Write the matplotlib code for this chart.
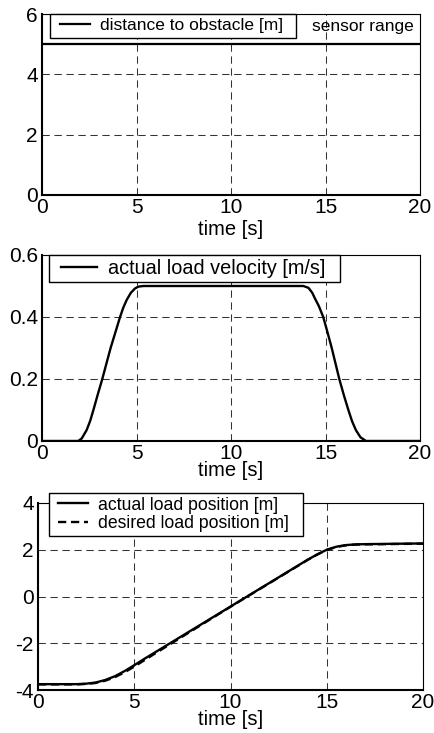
import matplotlib
matplotlib.use('Agg')
import matplotlib.pyplot as plt
from matplotlib.lines import Line2D
from matplotlib.legend_handler import HandlerLine2D

plt.rcParams['font.family'] = ['Liberation Sans', 'DejaVu Sans']

# top panel: distance to obstacle (stays at the sensor range)
t_dist = [0, 20]
dist = [5, 5]

# middle panel: actual load velocity
t_vel = [0, 1.92, 2.1, 2.36, 2.55, 2.72, 2.95, 3.19, 3.4, 3.63, 3.88, 4.13, 4.3, 4.48, 4.7,
         4.92, 5.1, 5.36, 13.83, 14.1, 14.3, 14.44, 14.65, 14.88, 15.1, 15.33, 15.53, 15.73,
         15.97, 16.21, 16.41, 16.61, 16.85, 17.14, 20]
vel = [0, 0, 0.008, 0.035, 0.065, 0.1, 0.15, 0.2, 0.248, 0.3, 0.35, 0.4, 0.43, 0.455, 0.478,
       0.492, 0.498, 0.5, 0.5, 0.494, 0.478, 0.46, 0.435, 0.4, 0.352, 0.3, 0.25, 0.2,
       0.148, 0.1, 0.063, 0.035, 0.012, 0, 0]

# bottom panel: load position
t_pos = [0, 1, 2, 2.5, 3, 3.5, 4, 4.5, 5, 5.5, 6, 7, 8, 9, 10, 11, 12, 13, 14,
         14.5, 15, 15.5, 16, 16.5, 17, 18, 19, 20]
pos_actual = [-3.75, -3.75, -3.75, -3.73, -3.68, -3.57, -3.41, -3.19, -2.94, -2.68, -2.43,
              -1.93, -1.43, -0.93, -0.43, 0.07, 0.57, 1.07, 1.57, 1.80, 2.0, 2.13, 2.2,
              2.23, 2.24, 2.25, 2.26, 2.27]
pos_desired = [-3.76, -3.76, -3.76, -3.74, -3.70, -3.60, -3.45, -3.24, -3.0, -2.74, -2.48,
               -1.97, -1.46, -0.95, -0.44, 0.06, 0.56, 1.06, 1.56, 1.79, 1.99, 2.12, 2.19,
               2.22, 2.23, 2.24, 2.25, 2.26]

xticks = [0, 5, 10, 15, 20]

fig = plt.figure(figsize=(4.35, 7.33), dpi=100)
W, H = 435.0, 733.0


def make_ax(l, r, t, b):
    return fig.add_axes([l / W, (H - b) / H, (r - l) / W, (b - t) / H])


def style(ax, yticks, ylabels, labelpad):
    ax.set_xlim(0, 20)
    ax.set_xticks(xticks)
    ax.set_xticklabels([str(v) for v in xticks])
    ax.set_yticks(yticks)
    ax.set_yticklabels(ylabels)
    ax.tick_params(length=0, labelsize=15, colors='black')
    ax.tick_params(axis='x', pad=2)
    ax.tick_params(axis='y', pad=3)
    ax.grid(True, color='#333333', lw=0.75, ls=(0, (7, 4.5)))
    ax.set_axisbelow(True)
    for s in ['top', 'right']:
        ax.spines[s].set_linewidth(0.8)
    for s in ['bottom', 'left']:
        ax.spines[s].set_linewidth(1.5)
    ax.set_xlabel('time [s]', fontsize=14.5, labelpad=labelpad)


def legend(ax, x0, x1, y, size, hl, xpad, tpad, bpad=0.2, **kw):
    leg = ax.legend(loc='upper left', bbox_to_anchor=(x0 / W, (H - y) / H - 0.1, (x1 - x0) / W, 0.1),
                    bbox_transform=fig.transFigure, mode='expand', fontsize=size,
                    handlelength=hl, handler_map={Line2D: HandlerLine2D(xpad=xpad)},
                    fancybox=False, frameon=True, borderaxespad=0, borderpad=bpad,
                    handletextpad=tpad, labelspacing=0.1, **kw)
    leg.get_frame().set_edgecolor('black')
    leg.get_frame().set_linewidth(1.0)
    leg.get_frame().set_alpha(1)
    leg.set_zorder(5)
    return leg


# panel 1
ax1 = make_ax(42, 420, 14, 195)
ax1.plot(t_dist, dist, color='black', lw=1.6, label='distance to obstacle [m]')
ax1.set_ylim(0, 6)
style(ax1, [0, 2, 4, 6], ['0', '2', '4', '6'], 2)
legend(ax1, 50, 296, 14, 12.5, 2.05, 0.33, 0.57, bpad=0.25)
ax1.text(0.984, 0.93, 'sensor range', transform=ax1.transAxes, ha='right', va='center',
         fontsize=12.5)

# panel 2
ax2 = make_ax(42, 420, 255, 441)
ax2.plot(t_vel, vel, color='black', lw=1.7, label='actual load velocity [m/s]')
ax2.set_ylim(0, 0.6)
style(ax2, [0, 0.2, 0.4, 0.6], ['0', '0.2', '0.4', '0.6'], -1)
legend(ax2, 49, 340, 255, 14.3, 2.2, 0.4, 0.55)

# panel 3
ax3 = make_ax(38, 423, 503, 690)
ax3.plot(t_pos, pos_actual, color='black', lw=1.7, label='actual load position [m]')
ax3.plot(t_pos, pos_desired, color='black', lw=1.7, dashes=(3.5, 2),
         label='desired load position [m]')
ax3.set_ylim(-4, 4)
style(ax3, [-4, -2, 0, 2, 4], ['-4', '-2', '0', '2', '4'], -1)
legend(ax3, 49, 303, 493, 12.7, 2.0, 0.31, 0.57)

fig.savefig('out.png', dpi=100)
